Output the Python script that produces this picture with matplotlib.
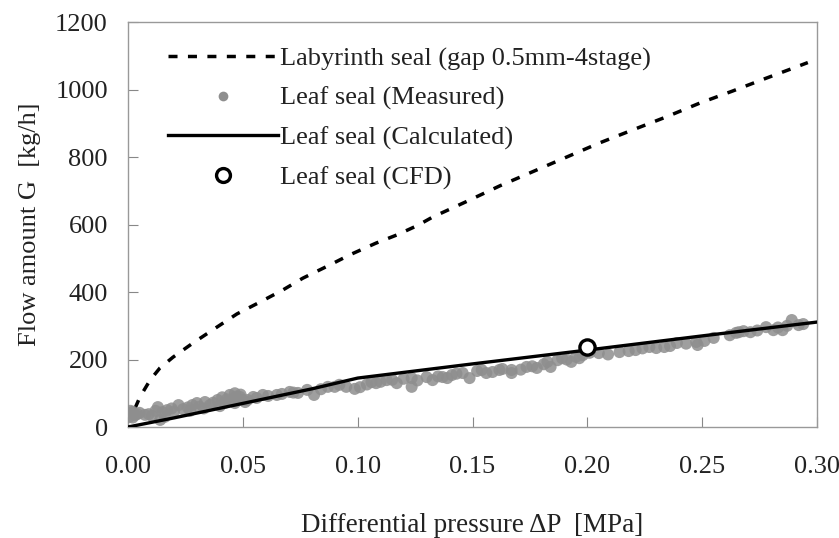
import matplotlib
matplotlib.use("Agg")
import matplotlib.pyplot as plt
from matplotlib.lines import Line2D

# Labyrinth seal (gap 0.5mm-4stage)
lab_dp = [0.003, 0.0052, 0.0096, 0.0139, 0.0196, 0.0283, 0.0387, 0.0474, 0.0574,
          0.0674, 0.0761, 0.0878, 0.0965, 0.108, 0.117, 0.126, 0.1326, 0.147,
          0.162, 0.176, 0.191, 0.205, 0.2196, 0.234, 0.249, 0.263, 0.278, 0.291, 0.296]
lab_g = [55, 89, 139, 175, 207, 249, 296, 335, 370,
         406, 441, 480, 510, 545, 569, 597, 622, 667,
         715, 756, 800, 841, 880, 918, 960, 995, 1034, 1067, 1080]

# Leaf seal, calculated
calc_dp = [0.0, 0.02, 0.05, 0.08, 0.10, 0.15, 0.20, 0.25, 0.30]
calc_g = [0, 27, 70, 113, 145, 187, 228, 270, 311]

# Leaf seal, CFD
cfd_dp = [0.20]
cfd_g = [237]

# Leaf seal, measured
meas_dp = [0.001, 0.002, 0.003, 0.004, 0.0074, 0.0104, 0.013, 0.014, 0.015, 0.017,
           0.022, 0.024, 0.028, 0.030, 0.0335, 0.0357, 0.039, 0.042, 0.0443, 0.0465,
           0.0487, 0.0465, 0.052, 0.050, 0.0545, 0.0587, 0.0648, 0.0704, 0.074, 0.078,
           0.081, 0.087, 0.090, 0.095, 0.0987, 0.106, 0.108, 0.1126, 0.117, 0.1235,
           0.1235, 0.130, 0.1326, 0.137, 0.141, 0.1457, 0.1487, 0.154, 0.1587, 0.1617,
           0.167, 0.167, 0.1735, 0.178, 0.1826, 0.184, 0.189, 0.193, 0.1965, 0.198,
           0.205, 0.214, 0.221, 0.227, 0.230, 0.2335, 0.239, 0.2474, 0.248, 0.255,
           0.2648, 0.266, 0.271, 0.2778, 0.281, 0.285, 0.289, 0.292,
           0.0005, 0.001, 0.002, 0.005, 0.009, 0.012, 0.016, 0.019, 0.020, 0.026,
           0.027, 0.031, 0.033, 0.037, 0.040, 0.041, 0.043, 0.045, 0.047, 0.049,
           0.051, 0.056, 0.061, 0.067, 0.072, 0.084, 0.092, 0.101, 0.104, 0.110,
           0.115, 0.120, 0.126, 0.135, 0.139, 0.143, 0.152, 0.156, 0.163, 0.171,
           0.176, 0.181, 0.187, 0.191, 0.195, 0.201, 0.209, 0.218, 0.224, 0.236,
           0.243, 0.251, 0.262, 0.268, 0.274, 0.283, 0.287, 0.294]
meas_g = [40, 45, 35, 38, 36, 33, 59, 21, 44, 50,
          65, 53, 65, 71, 74, 65, 80, 71, 95, 100,
          89, 71, 80, 80, 89, 95, 95, 104, 101, 110,
          95, 119, 119, 119, 113, 133, 130, 139, 130, 145,
          119, 148, 139, 148, 154, 160, 145, 169, 163, 169,
          169, 160, 178, 175, 193, 178, 204, 193, 204, 213,
          219, 222, 228, 237, 234, 237, 249, 252, 243, 264,
          279, 281, 281, 296, 287, 287, 317, 302,
          30, 48, 28, 42, 38, 48, 30, 55, 45, 58,
          48, 60, 55, 72, 62, 88, 82, 77, 90, 96,
          74, 86, 92, 98, 102, 112, 125, 118, 126, 134,
          140, 143, 138, 150, 145, 158, 166, 160, 172, 170,
          180, 186, 198, 200, 208, 220, 215, 225, 233, 240,
          247, 255, 272, 284, 286, 295, 300, 305]

plt.rcParams["font.family"] = ["Liberation Serif", "DejaVu Serif"]
text_color = "#222222"
dash = (0, (2.6, 3.0))

fig = plt.figure(figsize=(8.39, 5.38), dpi=100)
ax = fig.add_axes([0.1526, 0.2063, 0.8212, 0.7527])

ax.plot(lab_dp, lab_g, color="black", linewidth=2.5, linestyle=dash)
ax.scatter(meas_dp, meas_g, s=75, color="#8e8e8e", alpha=0.85, edgecolors="none", zorder=3)
ax.plot(calc_dp, calc_g, color="black", linewidth=2.4, zorder=4)
ax.scatter(cfd_dp, cfd_g, s=120, facecolors="white", edgecolors="black",
           linewidths=2.4, zorder=5)

ax.set_xlim(0, 0.30)
ax.set_ylim(0, 1200)
xt = [0.00, 0.05, 0.10, 0.15, 0.20, 0.25, 0.30]
ax.set_xticks(xt)
ax.set_xticklabels([f"{v:.2f}" for v in xt])
ax.set_yticks(range(0, 1201, 200))
ax.tick_params(direction="in", length=7, width=0.8, color="#888888",
               labelsize=19, labelcolor=text_color)
ax.tick_params(axis="x", pad=21)
ax.tick_params(axis="y", pad=14.5)
for spine in ax.spines.values():
    spine.set_color("#999999")
    spine.set_linewidth(1.0)

ax.set_xlabel("Differential pressure \u0394P  [MPa]", fontsize=19.5, color=text_color, labelpad=25)
ax.set_ylabel("Flow amount G  [kg/h]", fontsize=19, color=text_color, labelpad=10)

handles = [
    Line2D([], [], color="black", linewidth=2.5, linestyle=dash),
    Line2D([], [], marker="o", linestyle="none", markersize=7,
           markerfacecolor="#8e8e8e", markeredgecolor="none"),
    Line2D([], [], color="black", linewidth=2.4),
    Line2D([], [], marker="o", linestyle="none", markersize=10,
           markerfacecolor="white", markeredgecolor="black", markeredgewidth=2.4),
]
labels = ["Labyrinth seal (gap 0.5mm-4stage)", "Leaf seal (Measured)",
          "Leaf seal (Calculated)", "Leaf seal (CFD)"]
leg = ax.legend(handles, labels, loc="upper left", bbox_to_anchor=(0.0427, 0.965),
                frameon=False, fontsize=19, handlelength=4.17, handletextpad=0.08,
                labelspacing=0.6, borderaxespad=0)
for t in leg.get_texts():
    t.set_color(text_color)

fig.savefig("out.png", dpi=100, facecolor="white")
